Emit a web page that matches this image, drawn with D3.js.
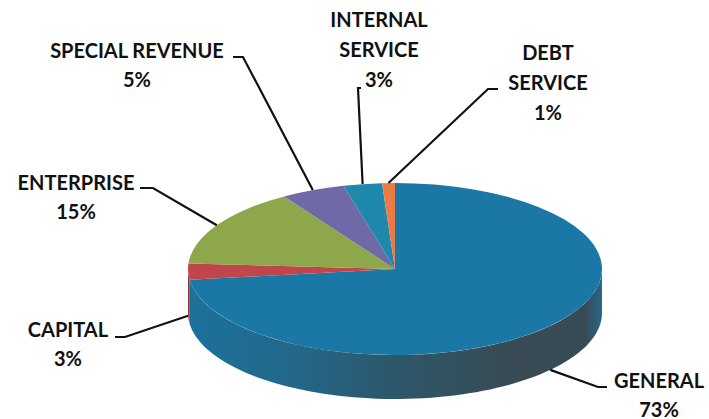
<!DOCTYPE html>
<html>
<head>
<meta charset="utf-8">
<script src="https://cdn.jsdelivr.net/npm/d3@7"></script>
<style>
  body { margin: 0; background: #fff; }
  text { font-family: Lato, "Liberation Sans", sans-serif; font-weight: 700; fill: #111; }
</style>
</head>
<body>
<div id="chart"></div>
<script>
// Fund shares (%), clockwise from 12 o'clock
const categories = ["GENERAL", "CAPITAL", "ENTERPRISE", "SPECIAL REVENUE", "INTERNAL SERVICE", "DEBT SERVICE"];
const values = [73, 3, 15, 5, 3, 1];
const labelLines = [["GENERAL"], ["CAPITAL"], ["ENTERPRISE"], ["SPECIAL REVENUE"], ["INTERNAL", "SERVICE"], ["DEBT", "SERVICE"]];

const colors = ["#1b77a6", "#c0464b", "#8fa74b", "#6f69a8", "#1f88ad", "#ec7a45"];

const width = 709, height = 419;
const cx = 395, cy = 269, rx = 207, ry = 86, depth = 44;

// label layout: text centre x, first baseline, elbow point, end of short tick
const labelPos = [
    { x: 659, y: 388, ex: 598, ey: 387, tx: 607 },
    { x: 68,  y: 337, ex: 125, ey: 337, tx: 115 },
    { x: 76,  y: 190, ex: 153, ey: 188, tx: 140 },
    { x: 137, y: 58,  ex: 243, ey: 57,  tx: 233 },
    { x: 379, y: 27,  ex: 358, ey: 88,  tx: 361 },
    { x: 548, y: 60,  ex: 488, ey: 89,  tx: 498 }
];

const svg = d3.select("#chart")
    .append("svg")
    .attr("width", width)
    .attr("height", height);

// side wall shading: bluish at the left, dark slate towards the front right
const defs = svg.append("defs");
const grad = defs.append("linearGradient")
    .attr("id", "side")
    .attr("gradientUnits", "userSpaceOnUse")
    .attr("x1", cx - rx).attr("x2", cx + rx)
    .attr("y1", 0).attr("y2", 0);
[[0, "#1c719b"], [0.25, "#22688a"], [0.5, "#2d576a"], [0.8, "#394a53"], [0.96, "#384b55"], [1, "#27688c"]]
    .forEach(s => grad.append("stop").attr("offset", s[0]).attr("stop-color", s[1]));

const pie = d3.pie().sort(null).startAngle(0).endAngle(2 * Math.PI);
const arcs = pie(values);

const px = a => cx + rx * Math.sin(a);
const py = a => cy - ry * Math.cos(a);

// side walls (front half only: angles between PI/2 and 3PI/2)
const sideArea = d3.area()
    .x(a => px(a))
    .y0(a => py(a) + depth)
    .y1(a => py(a));

arcs.forEach((d, i) => {
    const a0 = Math.max(d.startAngle, Math.PI / 2);
    const a1 = Math.min(d.endAngle, 3 * Math.PI / 2);
    if (a1 <= a0) return;
    const n = 80;
    const pts = d3.range(n + 1).map(k => a0 + (a1 - a0) * k / n);
    svg.append("path")
        .attr("d", sideArea(pts))
        .attr("fill", i === 0 ? "url(#side)" : d3.color(colors[i]).darker(0.8));
});

// top face: circular arcs squashed into an ellipse
const arc = d3.arc().innerRadius(0).outerRadius(rx);
const topFace = svg.append("g")
    .attr("transform", `translate(${cx},${cy}) scale(1,${ry / rx})`);
topFace.selectAll("path")
    .data(arcs)
    .enter()
    .append("path")
    .attr("d", arc)
    .attr("fill", (d, i) => colors[i]);

// leader lines
arcs.forEach((d, i) => {
    const m = (d.startAngle + d.endAngle) / 2;
    let ax = px(m), ay = py(m);
    if (m > Math.PI / 2 && m < 3 * Math.PI / 2) ay += depth;
    const p = labelPos[i];
    svg.append("polyline")
        .attr("points", `${ax},${ay} ${p.ex},${p.ey} ${p.tx},${p.ey}`)
        .attr("fill", "none")
        .attr("stroke", "#111")
        .attr("stroke-width", 2.2);
});

// labels
arcs.forEach((d, i) => {
    const p = labelPos[i];
    const lines = labelLines[i].concat([d.data + "%"]);
    const step = lines.length > 2 ? 30 : 28.5;
    const t = svg.append("text")
        .attr("text-anchor", "middle")
        .attr("font-size", 20);
    lines.forEach((s, k) => {
        t.append("tspan")
            .attr("x", p.x)
            .attr("y", p.y + k * step)
            .text(s);
    });
});
</script>
</body>
</html>
